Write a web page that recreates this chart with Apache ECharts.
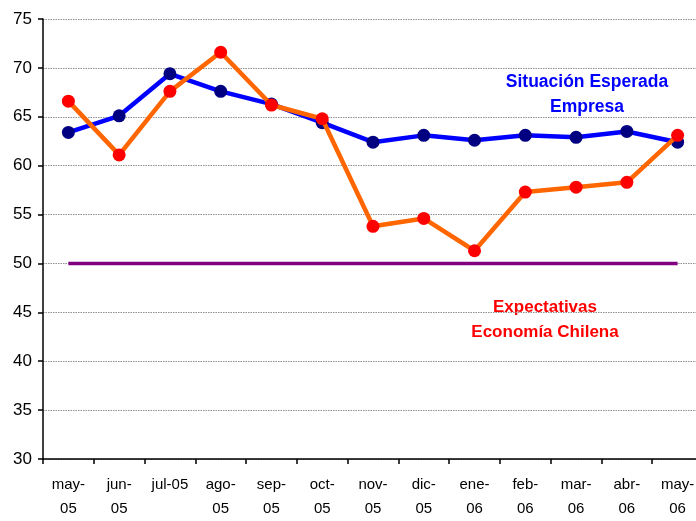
<!DOCTYPE html>
<html>
<head>
<meta charset="utf-8">
<script src="https://cdn.jsdelivr.net/npm/echarts@6/dist/echarts.min.js"></script>
<style>
html,body{margin:0;padding:0;background:#fff;overflow:hidden;width:696px;height:521px;}
#chart{width:706px;height:521px;}
</style>
</head>
<body>
<div id="chart"></div>
<script>
var categories = ['may-\n05','jun-\n05','jul-05','ago-\n05','sep-\n05','oct-\n05','nov-\n05','dic-\n05','ene-\n06','feb-\n06','mar-\n06','abr-\n06','may-\n06'];
var empresa = [63.4, 65.1, 69.4, 67.6, 66.3, 64.4, 62.4, 63.1, 62.6, 63.1, 62.9, 63.5, 62.4];
var economia = [66.6, 61.1, 67.6, 71.6, 66.2, 64.8, 53.8, 54.6, 51.3, 57.3, 57.8, 58.3, 63.1];
var neutral = [50, 50, 50, 50, 50, 50, 50, 50, 50, 50, 50, 50, 50];
var yTicks = {min: 30, max: 75, interval: 5};

var FONT = 'Liberation Sans, Arial, sans-serif';
var chart = echarts.init(document.getElementById('chart'), null, {renderer: 'canvas'});
chart.setOption({
  animation: false,
  backgroundColor: '#ffffff',
  grid: {left: 43, top: 19, width: 660, height: 443, containLabel: false},
  xAxis: {
    type: 'category',
    data: categories,
    boundaryGap: true,
    axisLine: {lineStyle: {color: '#000', width: 1.5}},
    axisTick: {show: true, length: 5, lineStyle: {color: '#000', width: 1.5}},
    axisLabel: {color: '#000', fontFamily: FONT, fontSize: 15, lineHeight: 24, margin: 14, interval: 0}
  },
  yAxis: {
    type: 'value',
    min: yTicks.min, max: yTicks.max, interval: yTicks.interval,
    axisLine: {show: true, lineStyle: {color: '#000', width: 1.5}},
    axisTick: {show: true, length: 5, lineStyle: {color: '#000', width: 1.5}},
    axisLabel: {color: '#000', fontFamily: FONT, fontSize: 17, margin: 11},
    splitLine: {show: true, lineStyle: {color: '#909090', type: [1.5, 1], width: 1}}
  },
  series: [
    {
      name: 'Neutral', type: 'line', data: neutral, symbol: 'none',
      lineStyle: {color: '#800080', width: 3.5}, z: 2
    },
    {
      name: 'Situación Esperada Empresa', type: 'line', data: empresa,
      symbol: 'circle', symbolSize: 13, showAllSymbol: true,
      lineStyle: {color: '#0000FF', width: 4.5},
      itemStyle: {color: '#000080'}, z: 3
    },
    {
      name: 'Expectativas Economía Chilena', type: 'line', data: economia,
      symbol: 'circle', symbolSize: 13, showAllSymbol: true,
      lineStyle: {color: '#FF6600', width: 4.5},
      itemStyle: {color: '#FF0000'}, z: 4
    }
  ],
  graphic: [
    {
      type: 'text', x: 587, y: 94.5,
      style: {text: 'Situación Esperada\nEmpresa', fill: '#0000FF', font: 'bold 17.5px ' + FONT,
        textAlign: 'center', textVerticalAlign: 'middle', lineHeight: 25}
    },
    {
      type: 'text', x: 545, y: 319.5,
      style: {text: 'Expectativas\nEconomía Chilena', fill: '#FF0000', font: 'bold 17px ' + FONT,
        textAlign: 'center', textVerticalAlign: 'middle', lineHeight: 25}
    }
  ]
});
</script>
</body>
</html>
